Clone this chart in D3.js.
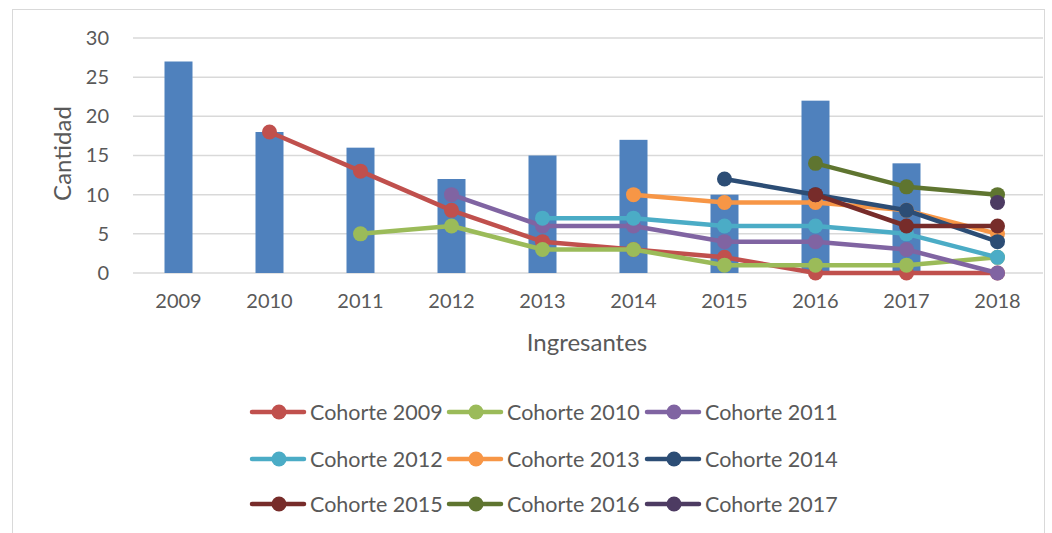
<!DOCTYPE html>
<html>
<head>
<meta charset="utf-8">
<script src="https://cdn.jsdelivr.net/npm/d3@7"></script>
<style>
  body { margin: 0; background: #fff; }
  text { font-family: Lato, "Open Sans", sans-serif; fill: #595959; }
</style>
</head>
<body>
<script>
const years = ['2009', '2010', '2011', '2012', '2013', '2014', '2015', '2016', '2017', '2018']
const ingresantes = [27, 18, 16, 12, 15, 17, 10, 22, 14, 0]
const cohortNames = ['Cohorte 2009', 'Cohorte 2010', 'Cohorte 2011', 'Cohorte 2012', 'Cohorte 2013',
  'Cohorte 2014', 'Cohorte 2015', 'Cohorte 2016', 'Cohorte 2017']
// null = cohort not present that year
const c2009 = [null, 18, 13, 8, 4, 3, 2, 0, 0, 0]
const c2010 = [null, null, 5, 6, 3, 3, 1, 1, 1, 2]
const c2011 = [null, null, null, 10, 6, 6, 4, 4, 3, 0]
const c2012 = [null, null, null, null, 7, 7, 6, 6, 5, 2]
const c2013 = [null, null, null, null, null, 10, 9, 9, 8, 5]
const c2014 = [null, null, null, null, null, null, 12, 10, 8, 4]
const c2015 = [null, null, null, null, null, null, null, 10, 6, 6]
const c2016 = [null, null, null, null, null, null, null, 14, 11, 10]
const c2017 = [null, null, null, null, null, null, null, null, null, 9]
const cohortValues = [c2009, c2010, c2011, c2012, c2013, c2014, c2015, c2016, c2017]
const cohortColors = ['#C0504D', '#9BBB59', '#8064A2', '#4BACC6', '#F79646', '#2C4D75', '#772C2A', '#5F7530', '#4D3B62']
const yTicks = [0, 5, 10, 15, 20, 25, 30]

const W = 1052, H = 533
const plot = { left: 133, right: 1043, top: 38, bottom: 273 }

const svg = d3.select('body').append('svg')
  .attr('width', W).attr('height', H)

svg.append('rect')
  .attr('x', 12.5).attr('y', 9.5).attr('width', 1032).attr('height', 560)
  .attr('fill', 'none').attr('stroke', '#D9D9D9').attr('stroke-width', 1)

const x = d3.scaleBand().domain(years).range([plot.left, plot.right])
const y = d3.scaleLinear().domain([0, 30]).range([plot.bottom, plot.top])

// gridlines
svg.append('g').selectAll('line').data(yTicks).enter().append('line')
  .attr('x1', plot.left).attr('x2', plot.right)
  .attr('y1', d => y(d)).attr('y2', d => y(d))
  .attr('stroke', '#D9D9D9').attr('stroke-width', 1.5)

// y axis labels
const yAxis = svg.append('g').attr('transform', `translate(${plot.left - 24},0)`)
  .call(d3.axisLeft(y).tickValues(yTicks).tickSize(0).tickPadding(0))
yAxis.select('.domain').remove()
yAxis.selectAll('text').style('font-size', '20px').attr('fill', '#595959')

// x axis labels
const xAxis = svg.append('g').attr('transform', `translate(0,${plot.bottom + 19})`)
  .call(d3.axisBottom(x).tickSize(0).tickPadding(0))
xAxis.select('.domain').remove()
xAxis.selectAll('text').style('font-size', '20px').attr('fill', '#595959').attr('dy', '0.8em')

svg.append('text')
  .attr('x', (plot.left + plot.right) / 2 - 1).attr('y', 351)
  .attr('text-anchor', 'middle').style('font-size', '24px')
  .text('Ingresantes')

svg.append('text')
  .attr('transform', `translate(71,${(plot.top + plot.bottom) / 2 - 2}) rotate(-90)`)
  .attr('text-anchor', 'middle').style('font-size', '24px')
  .text('Cantidad')

// bars
const barW = 28
svg.append('g').selectAll('rect').data(ingresantes).enter().append('rect')
  .attr('x', (d, i) => x(years[i]) + x.bandwidth() / 2 - barW / 2)
  .attr('y', d => y(d))
  .attr('width', barW)
  .attr('height', d => y(0) - y(d))
  .attr('fill', '#4F81BD')

// cohort lines
const line = d3.line()
  .defined(d => d.v !== null)
  .x(d => x(d.year) + x.bandwidth() / 2)
  .y(d => y(d.v))

cohortValues.forEach((vals, k) => {
  const pts = vals.map((v, i) => ({ year: years[i], v }))
  const g = svg.append('g')
  g.append('path')
    .attr('d', line(pts))
    .attr('fill', 'none')
    .attr('stroke', cohortColors[k])
    .attr('stroke-width', 4.5)
    .attr('stroke-linejoin', 'round')
    .attr('stroke-linecap', 'round')
  g.selectAll('circle').data(pts.filter(p => p.v !== null)).enter().append('circle')
    .attr('cx', d => x(d.year) + x.bandwidth() / 2)
    .attr('cy', d => y(d.v))
    .attr('r', 7.5)
    .attr('fill', cohortColors[k])
})

// legend
const legendCols = [250, 447, 645]
const legendRows = [412, 459, 504]
cohortNames.forEach((name, k) => {
  const lx = legendCols[k % 3]
  const ly = legendRows[Math.floor(k / 3)]
  const g = svg.append('g').attr('transform', `translate(${lx},${ly})`)
  g.append('line')
    .attr('x1', 2).attr('x2', 54).attr('y1', 0).attr('y2', 0)
    .attr('stroke', cohortColors[k]).attr('stroke-width', 4.5)
    .attr('stroke-linecap', 'round')
  g.append('circle').attr('cx', 29).attr('cy', 0).attr('r', 7.5)
    .attr('fill', cohortColors[k])
  g.append('text').attr('x', 60).attr('y', 0).attr('dy', '0.35em')
    .style('font-size', '21.5px')
    .text(name)
})
</script>
</body>
</html>
